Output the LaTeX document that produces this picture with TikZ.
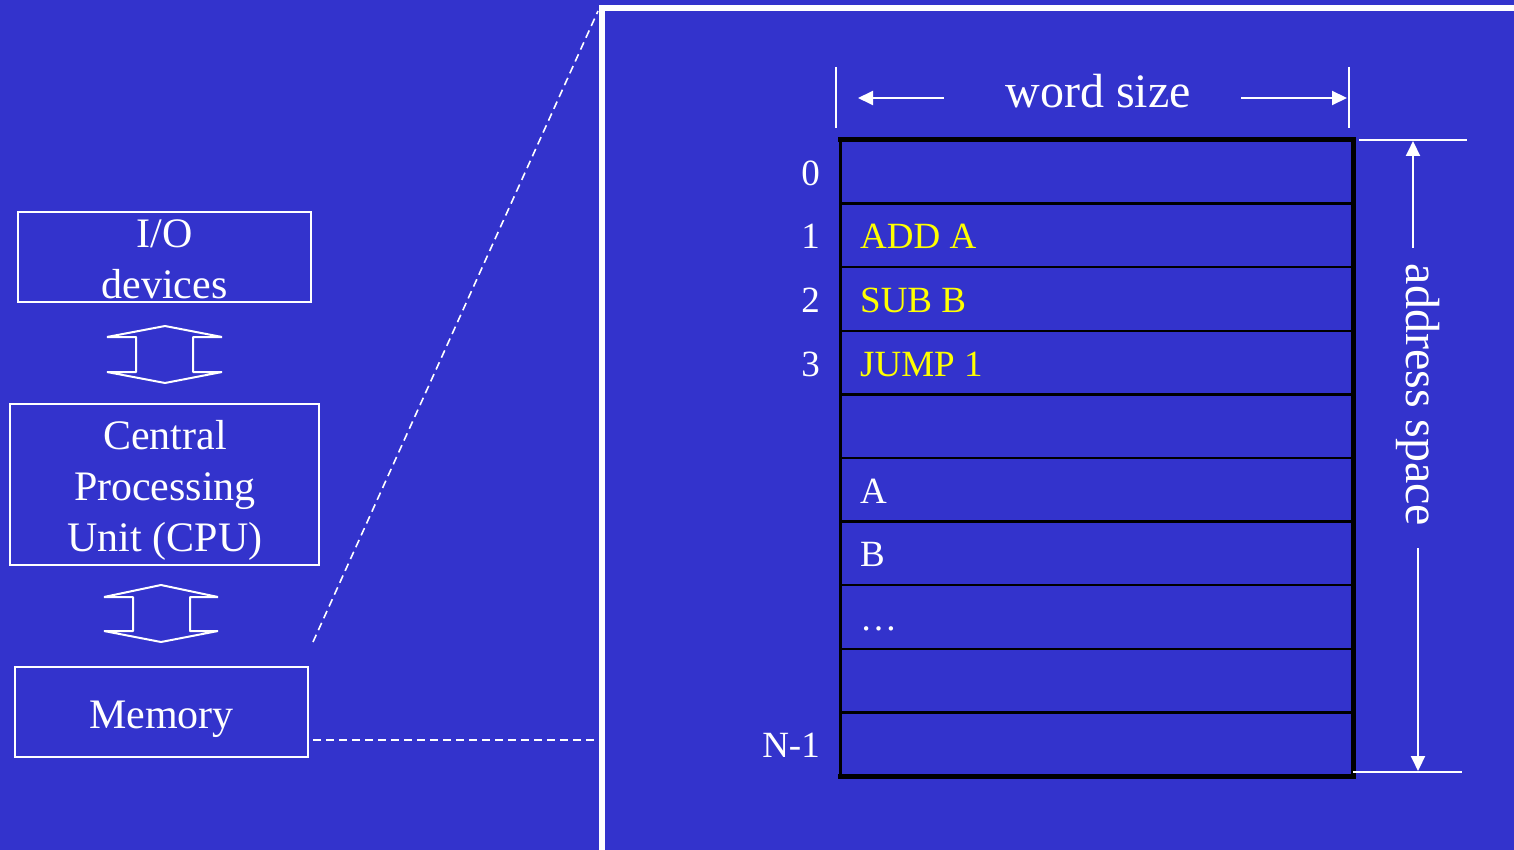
\documentclass[tikz,border=0pt]{standalone}
\usepackage{fontspec}
\setmainfont{Liberation Serif}
\usetikzlibrary{arrows.meta}
\definecolor{bgblue}{HTML}{3333CC}
\definecolor{txtyellow}{HTML}{FFFF00}
\begin{document}
\begin{tikzpicture}[x=1pt,y=-1pt,
  wbox/.style={draw=white, line width=2pt, inner sep=0pt, rectangle},
  bigtxt/.style={text=white, font=\fontsize{42}{51}\selectfont, align=center, inner sep=0pt},
  hdrtxt/.style={text=white, font=\fontsize{48}{56}\selectfont, inner sep=0pt},
  celltxt/.style={font=\fontsize{37}{42}\selectfont, inner sep=0pt},
  cellbox/.style={draw=black, line width=2.5pt, minimum width=513pt, minimum height=63.6pt, inner sep=0pt},
  dblarrow/.style={draw=white, line width=2pt, line join=bevel},
  dashcon/.style={draw=white, line width=1.6pt, dash pattern=on 8pt off 5pt},
  tick/.style={draw=white, line width=1.8pt},
  warrow/.style={draw=white, line width=2pt, -{Triangle[length=15pt,width=14pt]}}
]
\useasboundingbox (0,0) rectangle (1514,850);
\fill[bgblue] (0,0) rectangle (1514,850);

% left boxes
\node[wbox, minimum width=293pt, minimum height=90pt] (io) at (164.5,257) {};
\node[bigtxt] (iot) at (164.5,259) {I/O\\devices};
\node[wbox, minimum width=309pt, minimum height=161pt] (cpu) at (164.5,484.5) {};
\node[bigtxt] (cput) at (165,490) {Central\\Processing\\Unit (CPU)};
\node[wbox, minimum width=293pt, minimum height=90pt] (mem) at (161.5,712) {};
\node[bigtxt, anchor=base] (memt) at (161.5,728) {Memory};

% double arrows
\draw[dblarrow] (165,326) -- (222,337) -- (193,337) -- (193,372) -- (222,372) -- (165,383)
  -- (107,372) -- (136,372) -- (136,337) -- (107,337) -- cycle;
\draw[dblarrow] (161,585) -- (218,597) -- (190,597) -- (190,631) -- (218,631) -- (161,642)
  -- (104,631) -- (133,631) -- (133,597) -- (104,597) -- cycle;

% right frame
\draw[white, line width=6pt] (602,860) -- (602,8) -- (1524,8);

% dashed connectors
\coordinate (d1a) at (313,642);
\coordinate (d1b) at (598,11);
\coordinate (d2a) at (313,740);
\coordinate (d2b) at (598,740);
\draw[dashcon] (d1a) -- (d1b);
\draw[dashcon] (d2a) -- (d2b);

% memory table
\foreach \k/\lab/\cont/\col in {0/0//white,1/1/ADD A/txtyellow,2/2/SUB B/txtyellow,3/3/JUMP 1/txtyellow,
  4///white,5//A/white,6//B/white,7//…/white,8///white,9/N-1//white}{
  \pgfmathsetmacro{\cy}{140+63.6*(\k+0.5)}
  \node[cellbox] (r\k) at (1096.5,\cy) {};
  \node[celltxt, text=white, anchor=base east] (n\k) at (820,\cy+13.5) {\lab};
  \node[celltxt, text=\col, anchor=base west] (c\k) at (860,\cy+13.5) {\cont};
}
\draw[black, line width=5pt] (838,140) -- (1353,140) -- (1353,776) -- (838,776);
\draw[black, line width=3pt] (840,138) -- (840,778);

% word size
\coordinate (wl) at (836,67); \coordinate (wl2) at (836,128);
\coordinate (wr) at (1349,67); \coordinate (wr2) at (1349,128);
\draw[tick] (wl) -- (wl2);
\draw[tick] (wr) -- (wr2);
\node[hdrtxt, anchor=base] (ws) at (1098,108) {word size};
\coordinate (wla) at (944,98); \coordinate (wlb) at (858,98);
\coordinate (wra) at (1241,98); \coordinate (wrb) at (1347,98);
\draw[warrow] (wla) -- (wlb);
\draw[warrow] (wra) -- (wrb);

% address space
\coordinate (at1) at (1359,140); \coordinate (at2) at (1467,140);
\coordinate (ab1) at (1353,772); \coordinate (ab2) at (1462,772);
\draw[tick] (at1) -- (at2);
\draw[tick] (ab1) -- (ab2);
\node[hdrtxt, rotate=-90] (as) at (1418,395) {address space};
\coordinate (aua) at (1413,248); \coordinate (aub) at (1413,141);
\coordinate (ada) at (1418,548); \coordinate (adb) at (1418,771);
\draw[warrow] (aua) -- (aub);
\draw[warrow] (ada) -- (adb);
\end{tikzpicture}
\end{document}
